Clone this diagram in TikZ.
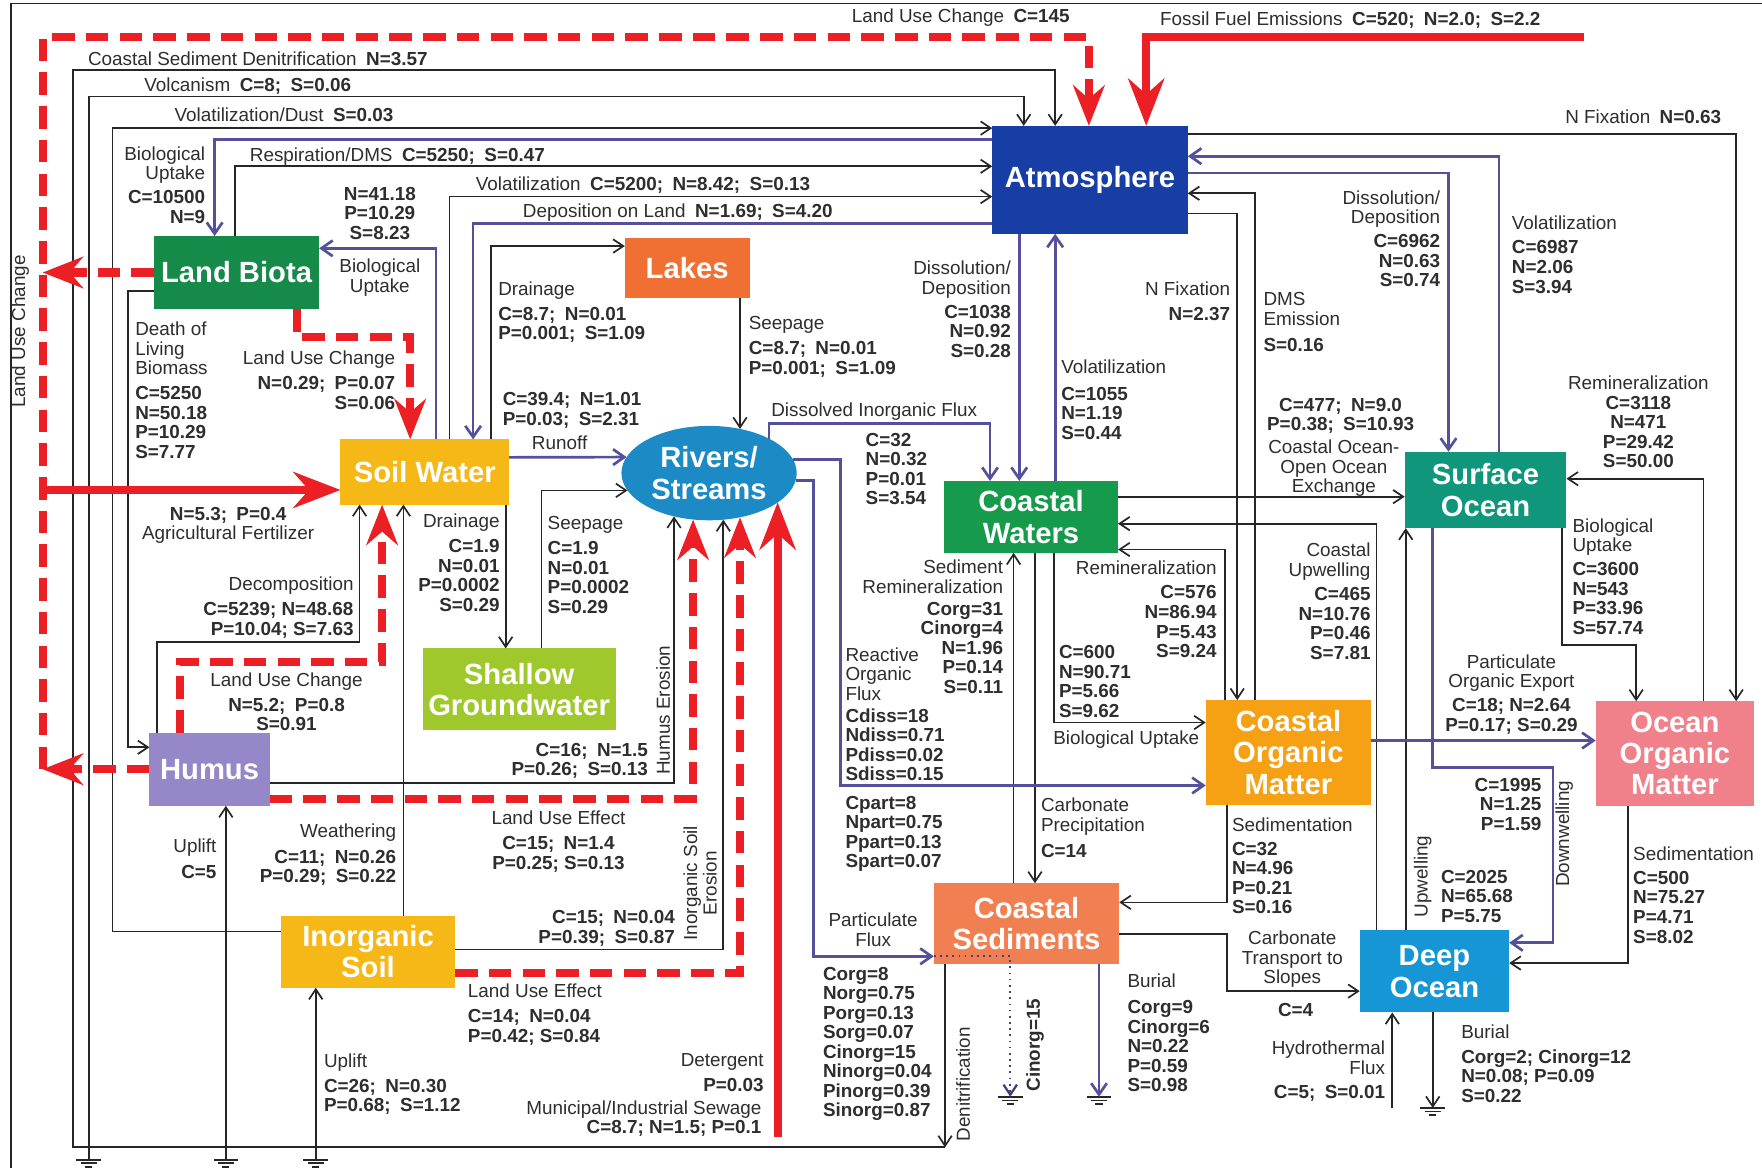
\documentclass[tikz,border=0pt]{standalone}
\usepackage{fontspec}
\setmainfont{Liberation Sans}
\usetikzlibrary{arrows.meta,shapes.geometric}

\definecolor{atmblue}{RGB}{22,62,165}
\definecolor{biogreen}{RGB}{22,138,72}
\definecolor{lakeorange}{RGB}{240,112,52}
\definecolor{soilyellow}{RGB}{246,184,22}
\definecolor{riverblue}{RGB}{28,138,196}
\definecolor{coastgreen}{RGB}{22,154,76}
\definecolor{surfteal}{RGB}{16,150,122}
\definecolor{sgwgreen}{RGB}{158,200,44}
\definecolor{humuslilac}{RGB}{150,136,200}
\definecolor{comorange}{RGB}{246,160,20}
\definecolor{oompink}{RGB}{240,128,138}
\definecolor{sedorange}{RGB}{240,128,82}
\definecolor{deepblue}{RGB}{22,150,212}
\definecolor{fluxpurple}{RGB}{84,80,156}
\definecolor{anthred}{RGB}{236,32,36}

\begin{document}
\begin{tikzpicture}[x=0.5pt,y=-0.5pt,
    box/.style={draw=none, inner sep=0, outer sep=0, align=center, text=white,
      font=\fontsize{13}{14}\selectfont\bfseries},
    lbl/.style={inner sep=0, text=black!82, font=\fontsize{8.4}{8.7}\selectfont},
    blk/.style={draw=black!85, line width=0.75pt, -{Straight Barb[length=4.5pt,width=6pt]}},
    pur/.style={draw=fluxpurple, line width=1.2pt, -{Straight Barb[length=5pt,width=7pt]}},
    rdash/.style={draw=anthred, line width=3.6pt, dash pattern=on 10pt off 5pt,
      -{Stealth[length=18pt,width=14pt,inset=6pt]}},
    rsolid/.style={draw=anthred, line width=3.6pt, -{Stealth[length=21pt,width=16pt,inset=7pt]}},
    gnd/.style={draw=black!85, line width=0.75pt}]

  \fill[white] (0,0) rectangle (1568,1039);
  \useasboundingbox (0,0) rectangle (1568,1039);
  \draw[black!85, line width=0.75pt] (10,1039) -- (10,3) -- (1568,3);

  % reservoirs
  \node[box, fill=atmblue, minimum width=87pt, minimum height=48pt] (atm) at (970,160) {Atmosphere};
  \node[box, fill=biogreen, minimum width=73.5pt, minimum height=32.5pt] (biota) at (210.5,242.5) {Land Biota};
  \node[box, fill=lakeorange, minimum width=55.5pt, minimum height=26.5pt] (lakes) at (611.5,238.5) {Lakes};
  \node[box, fill=soilyellow, minimum width=75pt, minimum height=29pt] (soilw) at (378,420) {Soil Water};
  \node[box, ellipse, fill=riverblue, minimum width=78pt, minimum height=42pt] (rivers) at (631,421) {Rivers/\\Streams};
  \node[box, fill=coastgreen, minimum width=77.5pt, minimum height=32pt] (cwat) at (917.5,460) {Coastal\\Waters};
  \node[box, fill=surfteal, minimum width=72pt, minimum height=34pt] (surf) at (1322,436) {Surface\\Ocean};
  \node[box, fill=sgwgreen, minimum width=86pt, minimum height=36.5pt] (sgw) at (462,613.5) {Shallow\\Groundwater};
  \node[box, fill=humuslilac, minimum width=53.5pt, minimum height=32.5pt] (humus) at (186.5,684.5) {Humus};
  \node[box, fill=comorange, minimum width=73.5pt, minimum height=46.5pt] (com) at (1146.5,669.5) {Coastal\\Organic\\Matter};
  \node[box, fill=oompink, minimum width=70.5pt, minimum height=46.5pt] (oom) at (1490.5,670.5) {Ocean\\Organic\\Matter};
  \node[box, fill=sedorange, minimum width=82.5pt, minimum height=36pt] (csed) at (913.5,822) {Coastal\\Sediments};
  \node[box, fill=soilyellow, minimum width=77.5pt, minimum height=32pt] (isoil) at (327.5,847) {Inorganic\\Soil};
  \node[box, fill=deepblue, minimum width=66.5pt, minimum height=36.5pt] (deep) at (1276.5,864.5) {Deep\\Ocean};

  % free ends
  \coordinate (wl) at (38,0);
  \coordinate (dn) at (841,1021);
  \coordinate (gv) at (79,1032);
  \coordinate (gu1) at (201,1032);
  \coordinate (gu2) at (281,1032);
  \coordinate (gc) at (899,976);
  \coordinate (gb) at (978,976);
  \coordinate (gd) at (1275,986);
  \coordinate (hyd) at (1239,986);
  \coordinate (ff) at (1410,33);
  \coordinate (fert) at (41,436);
  \coordinate (sew) at (692,1012);

  \foreach \g in {gv,gu1,gu2,gc,gb,gd}
    \draw[gnd] ([xshift=-5.5pt]\g) -- ([xshift=5.5pt]\g)
      ([xshift=-3.5pt,yshift=-1.6pt]\g) -- ([xshift=3.5pt,yshift=-1.6pt]\g)
      ([xshift=-1.6pt,yshift=-3.2pt]\g) -- ([xshift=1.6pt,yshift=-3.2pt]\g);

  % natural fluxes, black
  \draw[blk] (csed.south -| dn) -- (dn);
  \draw[blk] (dn) -| (65,62) -| (atm.north -| 939,0);
  \draw[blk] (gv) |- (911,86) -- (atm.north -| 911,0);
  \draw[blk] (isoil.west |- 0,829) -| (100,114) -- (atm.west |- 0,114);
  \draw[blk] (biota.north -| 209,0) |- (atm.west |- 0,148);
  \draw[blk] (soilw.north -| 400,0) |- (atm.west |- 0,175);
  \draw[blk] (biota.west |- 0,259) -| (114,665) -- (humus.west |- 0,665);
  \draw[blk] (humus.north -| 140,0) |- (320,571) -- (soilw.south -| 320,0);
  \draw[blk] (isoil.north -| 359,0) -- (soilw.south -| 359,0);
  \draw[blk] (gu1) -- (gu1 |- humus.south);
  \draw[blk] (gu2) -- (gu2 |- isoil.south);
  \draw[blk] (soilw.north -| 437,0) |- (lakes.west |- 0,219);
  \draw[blk] (rivers.55 |- lakes.south) -- (rivers.55);
  \draw[blk] (soilw.south -| 450,0) -- (sgw.north -| 450,0);
  \draw[blk] (sgw.north -| 482,0) |- (rivers.192);
  \draw[blk] (humus.east |- 0,697) -| (rivers.-129);
  \draw[blk] (isoil.east |- 0,845) -| (rivers.-73);
  \draw[blk] (csed.north -| 902,0) -- (cwat.south -| 902,0);
  \draw[blk] (cwat.south -| 921,0) -- (csed.north -| 921,0);
  \draw[blk] (cwat.south -| 938,0) |- (com.west |- 0,643);
  \draw[blk] (com.north -| 1090,0) |- (cwat.east |- 0,489);
  \draw[blk] (atm.east |- 0,190) -| (com.north -| 1101,0);
  \draw[blk] (com.north -| 1117,0) |- (atm.east |- 0,172);
  \draw[blk] (cwat.east |- 0,442) -- (surf.west |- 0,442);
  \draw[blk] (deep.north -| 1225,0) |- (cwat.east |- 0,466);
  \draw[blk] (deep.north -| 1251,0) -- (surf.south -| 1251,0);
  \draw[blk] (oom.south -| 1449,0) |- (deep.east |- 0,857);
  \draw[blk] (com.south -| 1092,0) |- (csed.east |- 0,803);
  \draw[blk] (csed.east |- 0,831) -| (1092,882) -- (deep.west |- 0,882);
  \draw[blk] (hyd) -- (hyd |- deep.south);
  \draw[blk] (deep.south -| gd) -- (gd);
  \draw[blk] (oom.north -| 1516,0) |- (surf.east |- 0,426);
  \draw[blk] (surf.south -| 1390,0) |- (1456,574) -- (oom.north -| 1456,0);
  \draw[blk] (atm.east |- 0,119) -| (oom.north -| 1545,0);
  \draw[blk, draw=fluxpurple!80!black, dotted, line width=1pt] (csed.west |- 0,851) -| (gc);

  % natural fluxes, purple
  \draw[pur] (atm.west |- 0,124) -| (biota.north -| 191,0);
  \draw[pur] (atm.west |- 0,199) -| (soilw.north -| 421,0);
  \draw[pur] (soilw.north -| 388,0) |- (biota.east |- 0,221);
  \draw[pur] (soilw.east |- 0,407) -- (rivers.169);
  \draw[pur] (rivers.30) |- (881,377) -- (cwat.north -| 881,0);
  \draw[pur] (rivers.9) -| (748,699) -- (com.west |- 0,699);
  \draw[pur] (rivers.-5) -| (724,851) -- (csed.west |- 0,851);
  \draw[pur] (atm.south -| 907,0) -- (cwat.north -| 907,0);
  \draw[pur] (cwat.north -| 939,0) -- (atm.south -| 939,0);
  \draw[pur] (surf.north -| 1334,0) |- (atm.east |- 0,139);
  \draw[pur] (atm.east |- 0,154) -| (surf.north -| 1289,0);
  \draw[pur] (surf.south -| 1275,0) |- (1382,683) |- (deep.east |- 0,839);
  \draw[pur] (com.east |- 0,659) -- (oom.west |- 0,659);
  \draw[pur] (csed.south -| gb) -- (gb);

  % human fluxes, red
  \draw[rdash] (humus.west) -- (humus.west -| wl);
  \draw[rdash] (biota.west) -- (biota.west -| wl);
  \draw[rdash] (humus.west -| wl) |- (969,33) -- (atm.north -| 969,0);
  \draw[rsolid] (ff) -| (atm.north -| 1020,0);
  \draw[rsolid] (fert) -- (fert -| soilw.west);
  \draw[rdash] (biota.south -| 264,0) |- (365,300) -- (soilw.north -| 365,0);
  \draw[rdash] (humus.north -| 160,0) |- (340,589) -- (soilw.south -| 340,0);
  \draw[rdash] (humus.east |- 0,711) -| (rivers.-109);
  \draw[rdash] (isoil.east |- 0,866) -| (rivers.-55);
  \draw[rsolid] (sew) -- (sew |- rivers.-23);

  % labels
  \node[lbl] (t1) at (855,16) {Land Use Change\enspace\textbf{C=145}};
  \node[lbl, anchor=west] (t2) at (1032,18) {Fossil Fuel Emissions\enspace\textbf{C=520;\enspace N=2.0;\enspace S=2.2}};
  \node[lbl, anchor=west] (t3) at (78,52) {Coastal Sediment Denitrification\enspace\textbf{N=3.57}};
  \node[lbl, anchor=west] (t4) at (128,77) {Volcanism\enspace\textbf{C=8;\enspace S=0.06}};
  \node[lbl, anchor=west] (t5) at (155,102) {Volatilization/Dust\enspace\textbf{S=0.03}};
  \node[lbl, anchor=east] (t6) at (1532,104) {N Fixation\enspace\textbf{N=0.63}};
  \node[lbl, anchor=west] (t7) at (222,139) {Respiration/DMS\enspace\textbf{C=5250;\enspace S=0.47}};
  \node[lbl, anchor=west] (t8) at (423,165) {Volatilization\enspace\textbf{C=5200;\enspace N=8.42;\enspace S=0.13}};
  \node[lbl, anchor=west] (t9) at (465,189) {Deposition on Land\enspace\textbf{N=1.69;\enspace S=4.20}};

  \node[lbl, align=right, anchor=north east] (t10) at (183,130) {Biological\\Uptake\\[2pt]\textbf{C=10500}\\\textbf{N=9}};
  \node[lbl, align=center, anchor=north] (t11) at (338,166) {\textbf{N=41.18}\\\textbf{P=10.29}\\\textbf{S=8.23}};
  \node[lbl, align=center, anchor=north] (t12) at (338,230) {Biological\\Uptake};
  \node[lbl, align=left, anchor=north west] (t13) at (120,286) {Death of\\Living\\Biomass\\[2.5pt]\textbf{C=5250}\\\textbf{N=50.18}\\\textbf{P=10.29}\\\textbf{S=7.77}};
  \node[lbl, align=right, anchor=north east] (t14) at (352,312) {Land Use Change\\[2.5pt]\textbf{N=0.29;\enspace P=0.07}\\\textbf{S=0.06}};
  \node[lbl, align=left, anchor=north west] (t15) at (443,250) {Drainage\\[2.5pt]\textbf{C=8.7;\enspace N=0.01}\\\textbf{P=0.001;\enspace S=1.09}};
  \node[lbl, align=left, anchor=north west] (t16) at (666,281) {Seepage\\[2.5pt]\textbf{C=8.7;\enspace N=0.01}\\\textbf{P=0.001;\enspace S=1.09}};
  \node[lbl, align=left, anchor=north west] (t17) at (447,349) {\textbf{C=39.4;\enspace N=1.01}\\\textbf{P=0.03;\enspace S=2.31}};
  \node[lbl] (t18) at (498,394) {Runoff};
  \node[lbl, align=center, anchor=north] (t19) at (203,451) {\textbf{N=5.3;\enspace P=0.4}\\Agricultural Fertilizer};
  \node[lbl, align=right, anchor=north east] (t20) at (445,457) {Drainage\\[2.5pt]\textbf{C=1.9}\\\textbf{N=0.01}\\\textbf{P=0.0002}\\\textbf{S=0.29}};
  \node[lbl, align=left, anchor=north west] (t21) at (487,459) {Seepage\\[2.5pt]\textbf{C=1.9}\\\textbf{N=0.01}\\\textbf{P=0.0002}\\\textbf{S=0.29}};
  \node[lbl, align=right, anchor=north east] (t22) at (315,513) {Decomposition\\[2.5pt]\textbf{C=5239; N=48.68}\\\textbf{P=10.04; S=7.63}};
  \node[lbl, align=center, anchor=north] (t23) at (255,598) {Land Use Change\\[2.5pt]\textbf{N=5.2;\enspace P=0.8}\\\textbf{S=0.91}};
  \node[lbl, align=right, anchor=north east] (t24) at (577,661) {\textbf{C=16;\enspace N=1.5}\\\textbf{P=0.26;\enspace S=0.13}};
  \node[lbl, rotate=90] (t25) at (590,632) {Humus Erosion};
  \node[lbl, align=center, anchor=north] (t26) at (497,721) {Land Use Effect\\[2.5pt]\textbf{C=15;\enspace N=1.4}\\\textbf{P=0.25; S=0.13}};
  \node[lbl, align=right, anchor=north east] (t27) at (353,733) {Weathering\\[2.5pt]\textbf{C=11;\enspace N=0.26}\\\textbf{P=0.29;\enspace S=0.22}};
  \node[lbl, align=right, anchor=north east] (t28) at (193,746) {Uplift\\[3pt]\textbf{C=5}};
  \node[lbl, align=right, anchor=north east] (t29) at (601,810) {\textbf{C=15;\enspace N=0.04}\\\textbf{P=0.39;\enspace S=0.87}};
  \node[lbl, rotate=90, align=center] (t30) at (623,786) {Inorganic Soil\\Erosion};
  \node[lbl, align=left, anchor=north west] (t31) at (416,875) {Land Use Effect\\[2.5pt]\textbf{C=14;\enspace N=0.04}\\\textbf{P=0.42; S=0.84}};
  \node[lbl, align=left, anchor=north west] (t32) at (288,937) {Uplift\\[2.5pt]\textbf{C=26;\enspace N=0.30}\\\textbf{P=0.68;\enspace S=1.12}};
  \node[lbl, align=right, anchor=north east] (t33) at (680,937) {Detergent\\[2.5pt]\textbf{P=0.03}};
  \node[lbl, align=right, anchor=north east] (t34) at (678,979) {Municipal/Industrial Sewage\\\textbf{C=8.7; N=1.5; P=0.1}};
  \node[lbl, rotate=90] (t35) at (18,295) {Land Use Change};

  \node[lbl, align=right, anchor=north east] (t36) at (900,232) {Dissolution/\\Deposition\\[2pt]\textbf{C=1038}\\\textbf{N=0.92}\\\textbf{S=0.28}};
  \node[lbl, align=left, anchor=north west] (t37) at (944,320) {Volatilization\\[3pt]\textbf{C=1055}\\\textbf{N=1.19}\\\textbf{S=0.44}};
  \node[lbl, align=right, anchor=north east] (t38) at (1095,250) {N Fixation\\[2.5pt]\textbf{N=2.37}};
  \node[lbl, align=left, anchor=north west] (t39) at (1124,260) {DMS\\Emission\\[3pt]\textbf{S=0.16}};
  \node[lbl, anchor=west] (t40) at (686,366) {Dissolved Inorganic Flux};
  \node[lbl, align=left, anchor=north west] (t41) at (770,385) {\textbf{C=32}\\\textbf{N=0.32}\\\textbf{P=0.01}\\\textbf{S=3.54}};
  \node[lbl, align=right, anchor=north east] (t42) at (893,498) {Sediment\\Remineralization\\[1pt]\textbf{Corg=31}\\\textbf{Cinorg=4}\\\textbf{N=1.96}\\\textbf{P=0.14}\\\textbf{S=0.11}};
  \node[lbl, align=left, anchor=north west] (t43) at (752,576) {Reactive\\Organic\\Flux};
  \node[lbl, align=left, anchor=north west] (t44) at (752,630) {\textbf{Cdiss=18}\\\textbf{Ndiss=0.71}\\\textbf{Pdiss=0.02}\\\textbf{Sdiss=0.15}};
  \node[lbl, align=left, anchor=north west] (t45) at (752,708) {\textbf{Cpart=8}\\\textbf{Npart=0.75}\\\textbf{Ppart=0.13}\\\textbf{Spart=0.07}};
  \node[lbl, align=center, anchor=north] (t46) at (777,812) {Particulate\\Flux};
  \node[lbl, align=left, anchor=north west] (t47) at (732,860) {\textbf{Corg=8}\\\textbf{Norg=0.75}\\\textbf{Porg=0.13}\\\textbf{Sorg=0.07}\\\textbf{Cinorg=15}\\\textbf{Ninorg=0.04}\\\textbf{Pinorg=0.39}\\\textbf{Sinorg=0.87}};
  \node[lbl, rotate=90] (t48) at (857,965) {Denitrification};
  \node[lbl, rotate=90] (t49) at (921,930) {\textbf{Cinorg=15}};
  \node[lbl, align=left, anchor=north west] (t50) at (1003,866) {Burial\\[3pt]\textbf{Corg=9}\\\textbf{Cinorg=6}\\\textbf{N=0.22}\\\textbf{P=0.59}\\\textbf{S=0.98}};
  \node[lbl, align=left, anchor=north west] (t51) at (926,710) {Carbonate\\Precipitation\\[3pt]\textbf{C=14}};
  \node[lbl, align=left, anchor=north west] (t52) at (942,574) {\textbf{C=600}\\\textbf{N=90.71}\\\textbf{P=5.66}\\\textbf{S=9.62}};
  \node[lbl, anchor=west] (t53) at (937,658) {Biological Uptake};
  \node[lbl, align=right, anchor=north east] (t54) at (1083,499) {Remineralization\\[2pt]\textbf{C=576}\\\textbf{N=86.94}\\\textbf{P=5.43}\\\textbf{S=9.24}};
  \node[lbl, align=center, anchor=north] (t55) at (1193,354) {\textbf{C=477;\enspace N=9.0}\\\textbf{P=0.38;\enspace S=10.93}};
  \node[lbl, align=center, anchor=north] (t56) at (1187,391) {Coastal Ocean-\\Open Ocean\\Exchange};
  \node[lbl, align=right, anchor=north east] (t57) at (1220,483) {Coastal\\Upwelling\\[2pt]\textbf{C=465}\\\textbf{N=10.76}\\\textbf{P=0.46}\\\textbf{S=7.81}};
  \node[lbl, align=right, anchor=north east] (t58) at (1282,169) {Dissolution/\\Deposition\\[2pt]\textbf{C=6962}\\\textbf{N=0.63}\\\textbf{S=0.74}};
  \node[lbl, align=left, anchor=north west] (t59) at (1345,192) {Volatilization\\[2pt]\textbf{C=6987}\\\textbf{N=2.06}\\\textbf{S=3.94}};
  \node[lbl, align=center, anchor=north] (t60) at (1458,334) {Remineralization\\\textbf{C=3118}\\\textbf{N=471}\\\textbf{P=29.42}\\\textbf{S=50.00}};
  \node[lbl, align=left, anchor=north west] (t61) at (1399,461) {Biological\\Uptake\\[2pt]\textbf{C=3600}\\\textbf{N=543}\\\textbf{P=33.96}\\\textbf{S=57.74}};
  \node[lbl, align=center, anchor=north] (t62) at (1345,582) {Particulate\\Organic Export\\[2pt]\textbf{C=18; N=2.64}\\\textbf{P=0.17; S=0.29}};
  \node[lbl, align=right, anchor=north east] (t63) at (1372,692) {\textbf{C=1995}\\\textbf{N=1.25}\\\textbf{P=1.59}};
  \node[lbl, rotate=90] (t64) at (1392,742) {Downwelling};
  \node[lbl, rotate=90] (t65) at (1266,780) {Upwelling};
  \node[lbl, align=left, anchor=north west] (t66) at (1282,774) {\textbf{C=2025}\\\textbf{N=65.68}\\\textbf{P=5.75}};
  \node[lbl, align=left, anchor=north west] (t67) at (1096,727) {Sedimentation\\[2pt]\textbf{C=32}\\\textbf{N=4.96}\\\textbf{P=0.21}\\\textbf{S=0.16}};
  \node[lbl, align=left, anchor=north west] (t68) at (1453,753) {Sedimentation\\[2pt]\textbf{C=500}\\\textbf{N=75.27}\\\textbf{P=4.71}\\\textbf{S=8.02}};
  \node[lbl, align=center, anchor=north] (t69) at (1150,828) {Carbonate\\Transport to\\Slopes};
  \node[lbl] (t70) at (1153,899) {\textbf{C=4}};
  \node[lbl, align=right, anchor=north east] (t71) at (1233,926) {Hydrothermal\\Flux\\[2pt]\textbf{C=5;\enspace S=0.01}};
  \node[lbl, align=left, anchor=north west] (t72) at (1300,912) {Burial\\[2pt]\textbf{Corg=2; Cinorg=12}\\\textbf{N=0.08; P=0.09}\\\textbf{S=0.22}};
\end{tikzpicture}
\end{document}
